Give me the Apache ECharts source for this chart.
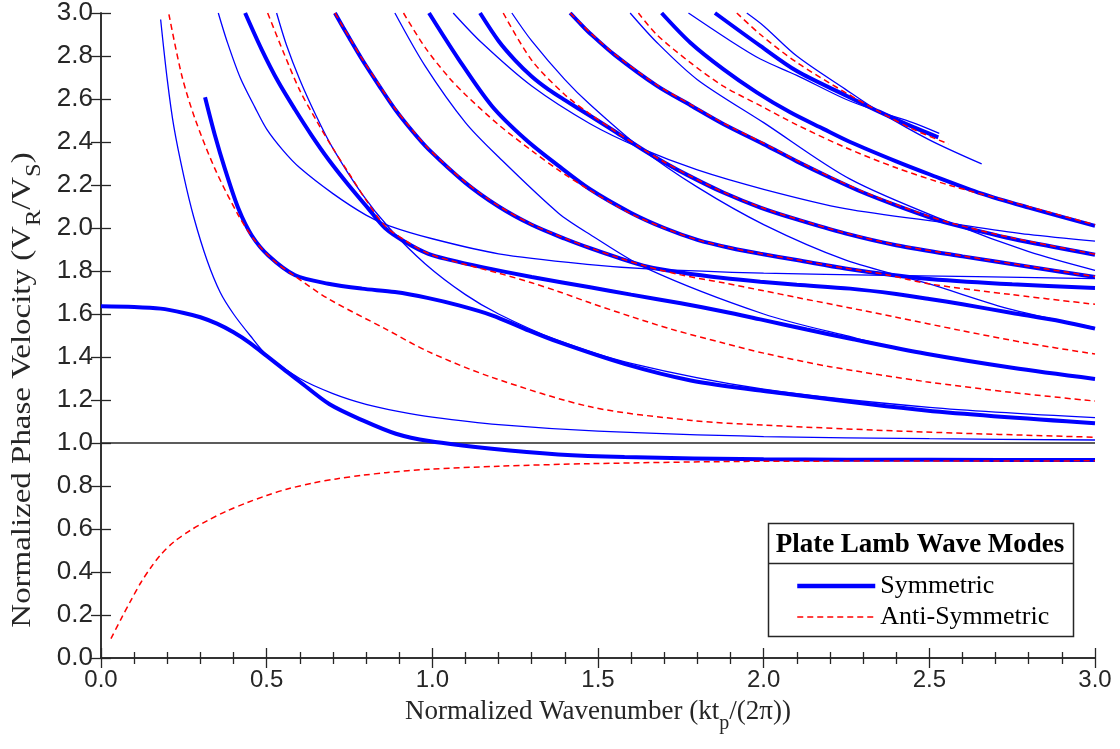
<!DOCTYPE html>
<html>
<head>
<meta charset="utf-8">
<script src="https://cdn.jsdelivr.net/npm/echarts@6/dist/echarts.min.js"></script>
<style>
  html, body { margin: 0; padding: 0; background: #fff; }
  #chart { width: 1120px; height: 749px; }
</style>
</head>
<body>
<div id="chart"></div>
<script>
// ---- Symmetric Lamb modes (thick blue) ----
const symS0 = [[0,1.636],[0.1,1.633],[0.18,1.625],[0.25,1.605],[0.30,1.585],[0.35,1.555],[0.40,1.515],[0.45,1.465],[0.50,1.405],[0.55,1.345],[0.60,1.285],[0.69,1.18],[0.79,1.105],[0.89,1.043],[0.99,1.009],[1.18,0.973],[1.38,0.947],[1.58,0.935],[2.0,0.924],[2.5,0.922],[3.0,0.921]];
const symS1 = [[0.314,2.608],[0.344,2.43],[0.374,2.275],[0.415,2.089],[0.455,1.965],[0.505,1.872],[0.586,1.78],[0.686,1.741],[0.787,1.718],[0.887,1.702],[0.985,1.675],[1.08,1.64],[1.18,1.594],[1.28,1.53],[1.38,1.47],[1.58,1.368],[1.78,1.291],[2.0,1.242],[2.49,1.151],[3.0,1.092]];
const symS2 = [[0.435,3.0],[0.485,2.83],[0.535,2.68],[0.586,2.55],[0.636,2.43],[0.686,2.32],[0.747,2.20],[0.807,2.09],[0.857,2.0],[0.918,1.935],[0.988,1.88],[1.05,1.853],[1.15,1.818],[1.3,1.772],[1.476,1.724],[1.6,1.69],[1.75,1.65],[1.878,1.612],[1.99,1.575],[2.13,1.528],[2.27,1.482],[2.49,1.415],[2.75,1.35],[3.0,1.298]];
const symS3 = [[0.706,3.0],[0.75,2.882],[0.787,2.786],[0.84,2.66],[0.887,2.553],[0.94,2.45],[0.988,2.367],[1.1,2.21],[1.2,2.10],[1.3,2.015],[1.4,1.95],[1.476,1.906],[1.56,1.862],[1.65,1.82],[1.75,1.793],[1.878,1.767],[1.99,1.75],[2.1,1.736],[2.261,1.718],[2.4,1.693],[2.5,1.67],[2.6,1.645],[2.75,1.605],[2.9,1.565],[3.0,1.532]];
const symS4 = [[0.99,3.0],[1.079,2.786],[1.179,2.569],[1.28,2.414],[1.38,2.29],[1.476,2.18],[1.6,2.07],[1.7,2.0],[1.8,1.945],[1.9,1.907],[1.99,1.88],[2.1,1.851],[2.246,1.812],[2.37,1.785],[2.5,1.763],[2.75,1.738],[3.0,1.721]];
const symS5 = [[1.144,3.0],[1.2,2.87],[1.25,2.78],[1.3,2.705],[1.35,2.645],[1.4,2.595],[1.476,2.522],[1.55,2.45],[1.63,2.37],[1.7,2.305],[1.778,2.24],[1.878,2.165],[1.99,2.095],[2.1,2.04],[2.246,1.975],[2.4,1.92],[2.6,1.868],[2.8,1.82],[3.0,1.772]];
const symS6 = [[1.416,3.0],[1.45,2.945],[1.476,2.905],[1.55,2.805],[1.677,2.662],[1.78,2.57],[1.878,2.484],[2.0,2.39],[2.1,2.31],[2.2,2.235],[2.3,2.165],[2.4,2.105],[2.5,2.05],[2.57,2.017],[2.75,1.95],[3.0,1.876]];
const symS7 = [[1.692,3.0],[1.778,2.863],[1.878,2.739],[1.979,2.631],[2.08,2.538],[2.18,2.461],[2.261,2.40],[2.4,2.31],[2.5,2.25],[2.658,2.16],[2.8,2.095],[3.0,2.01]];
const symS8 = [[1.853,3.0],[1.99,2.847],[2.1,2.73],[2.246,2.618],[2.35,2.54],[2.45,2.47],[2.527,2.422]];

// ---- Anti-symmetric Lamb modes (red dashed) ----
const antiA0 = [[0.03,0.09],[0.06,0.18],[0.09,0.267],[0.12,0.35],[0.15,0.42],[0.18,0.48],[0.22,0.54],[0.27,0.594],[0.32,0.638],[0.38,0.684],[0.44,0.722],[0.5,0.756],[0.56,0.785],[0.64,0.814],[0.71,0.833],[0.79,0.85],[0.86,0.862],[0.99,0.878],[1.2,0.892],[1.48,0.904],[2.0,0.915],[2.5,0.916],[3.0,0.917]];
const antiA1 = [[0.205,2.994],[0.244,2.708],[0.284,2.507],[0.344,2.275],[0.415,2.058],[0.465,1.94],[0.52,1.85],[0.586,1.775],[0.686,1.671],[0.857,1.532],[0.988,1.425],[1.179,1.306],[1.481,1.167],[1.783,1.105],[2.0,1.083],[2.49,1.051],[3.0,1.027]];
const antiA2 = [[0.503,3.0],[0.55,2.82],[0.6,2.64],[0.65,2.50],[0.7,2.37],[0.75,2.25],[0.8,2.13],[0.857,2.01],[0.92,1.94],[0.99,1.88],[1.1,1.83],[1.2,1.79],[1.3,1.745],[1.38,1.705],[1.476,1.652],[1.6,1.588],[1.72,1.53],[1.878,1.465],[2.0,1.418],[2.2,1.355],[2.49,1.285],[2.75,1.235],[3.0,1.195]];
const antiA3 = [[0.706,3.0],[0.75,2.885],[0.787,2.79],[0.84,2.665],[0.887,2.557],[0.94,2.455],[0.988,2.37],[1.1,2.213],[1.2,2.103],[1.3,2.017],[1.4,1.952],[1.476,1.908],[1.56,1.863],[1.65,1.82],[1.75,1.782],[1.878,1.745],[2.0,1.708],[2.1,1.677],[2.261,1.628],[2.4,1.585],[2.59,1.525],[2.8,1.463],[3.0,1.414]];
const antiA4 = [[0.913,3.0],[0.978,2.84],[1.05,2.70],[1.1,2.62],[1.2,2.48],[1.3,2.36],[1.38,2.27],[1.476,2.175],[1.6,2.066],[1.7,2.0],[1.8,1.945],[1.9,1.908],[1.99,1.881],[2.1,1.852],[2.246,1.813],[2.37,1.783],[2.5,1.74],[2.75,1.69],[3.0,1.645]];
const antiA5 = [[1.214,3.0],[1.3,2.78],[1.4,2.62],[1.476,2.53],[1.55,2.452],[1.63,2.372],[1.7,2.307],[1.778,2.242],[1.878,2.167],[1.99,2.097],[2.1,2.042],[2.246,1.977],[2.4,1.922],[2.6,1.87],[2.8,1.822],[3.0,1.774]];
const antiA6 = [[1.416,3.0],[1.45,2.949],[1.476,2.909],[1.55,2.809],[1.677,2.666],[1.78,2.574],[1.878,2.488],[2.0,2.394],[2.1,2.314],[2.2,2.239],[2.3,2.169],[2.4,2.109],[2.5,2.054],[2.57,2.021],[2.75,1.954],[3.0,1.878]];
const antiA7 = [[1.622,3.0],[1.677,2.90],[1.778,2.77],[1.878,2.66],[1.99,2.569],[2.1,2.48],[2.246,2.375],[2.4,2.28],[2.558,2.2],[2.75,2.12],[3.0,2.015]];
const antiA8 = [[1.919,3.0],[1.99,2.90],[2.1,2.77],[2.246,2.631],[2.35,2.54],[2.45,2.46],[2.558,2.391]];

// ---- Bulk shear / longitudinal thickness-resonance lines (thin blue) ----
const lineSH1 = [[0.18,2.97],[0.2,2.69],[0.22,2.47],[0.25,2.24],[0.28,2.05],[0.32,1.85],[0.36,1.70],[0.4,1.60],[0.45,1.50],[0.5,1.41],[0.6,1.30],[0.7,1.23],[0.8,1.18],[0.9,1.146],[1.0,1.12],[1.2,1.085],[1.5,1.055],[2.0,1.03],[2.5,1.02],[3.0,1.014]];
const lineSH3 = [[0.53,3.0],[0.56,2.85],[0.6,2.69],[0.65,2.52],[0.7,2.37],[0.787,2.16],[0.87,2.0],[0.978,1.834],[1.1,1.69],[1.2,1.60],[1.37,1.483],[1.6,1.37],[2.0,1.25],[2.5,1.166],[3.0,1.118]];
const lineSH5 = [[0.887,3.0],[0.978,2.754],[1.1,2.49],[1.2,2.33],[1.38,2.07],[1.476,1.97],[1.65,1.81],[2.0,1.60],[2.246,1.50],[2.5,1.41],[3.0,1.30]];
const lineSH7 = [[1.24,3.0],[1.3,2.87],[1.4,2.69],[1.476,2.574],[1.63,2.37],[1.8,2.19],[2.0,2.016],[2.246,1.852],[2.5,1.74],[2.75,1.62],[3.0,1.536]];
const lineSH9 = [[1.597,3.0],[1.677,2.864],[1.8,2.69],[2.0,2.49],[2.261,2.227],[2.57,2.02],[2.8,1.89],[3.0,1.803]];
const lineSH11 = [[1.949,3.0],[2.0,2.94],[2.1,2.80],[2.246,2.646],[2.35,2.54],[2.5,2.41],[2.658,2.298]];
const lineP1 = [[0.354,3.0],[0.38,2.87],[0.42,2.70],[0.465,2.56],[0.5,2.46],[0.55,2.36],[0.6,2.28],[0.7,2.16],[0.8,2.06],[0.87,2.01],[1.0,1.95],[1.2,1.88],[1.476,1.83],[1.65,1.81],[2.0,1.79],[2.37,1.78],[3.0,1.765]];
const lineP3 = [[1.063,3.0],[1.15,2.86],[1.3,2.66],[1.476,2.485],[1.63,2.37],[1.8,2.27],[2.0,2.18],[2.246,2.09],[2.57,2.02],[2.8,1.97],[3.0,1.939]];
const lineP5 = [[1.773,3.0],[1.9,2.87],[1.99,2.786],[2.1,2.71],[2.246,2.6],[2.35,2.54],[2.45,2.49],[2.53,2.44]];

const refLine = [[0, 1], [3, 1]];

const symModes = [symS0, symS1, symS2, symS3, symS4, symS5, symS6, symS7, symS8];
const antiModes = [antiA0, antiA1, antiA2, antiA3, antiA4, antiA5, antiA6, antiA7, antiA8];
const thinLines = [lineSH1, lineSH3, lineSH5, lineSH7, lineSH9, lineSH11, lineP1, lineP3, lineP5];

const BLUE = '#0000ff', RED = '#ff0000', AX = '#262626';
const serif = 'Liberation Serif';

function curve(name, data, color, lineStyle, z) {
  return { name, type: 'line', data, smooth: 0.3, symbol: 'none', showSymbol: false,
           clip: true, silent: true, itemStyle: { color }, lineStyle: Object.assign({ color }, lineStyle), z,
           emphasis: { disabled: true } };
}

const series = [];
thinLines.forEach(d => series.push(curve('Bulk resonance', d, BLUE, { width: 1.3 }, 2)));
symModes.forEach(d => series.push(curve('Symmetric', d, BLUE, { width: 4 }, 3)));
antiModes.forEach(d => series.push(curve('Anti-Symmetric', d, RED, { width: 1.5, type: [6, 4] }, 4)));
series.push({ type: 'line', data: refLine, symbol: 'none', silent: true, z: 1,
              lineStyle: { color: AX, width: 1.5 } });

const tickFmt = v => v.toFixed(1);
const tickStyle = { color: AX, width: 1.3 };

function xAx(pos, labels) {
  return { type: 'value', min: 0, max: 3, interval: 0.5, position: pos,
    axisLine: { lineStyle: { color: AX, width: 1.5 } },
    axisTick: { inside: true, length: 10, lineStyle: tickStyle },
    minorTick: { show: true, splitNumber: 5, length: 6, lineStyle: tickStyle },
    axisLabel: labels ? { formatter: tickFmt, fontFamily: 'Liberation Sans', fontSize: 24, color: AX, margin: 10 } : { show: false },
    splitLine: { show: false } };
}
function yAx(pos, labels) {
  return { type: 'value', min: 0, max: 3, interval: 0.2, position: pos,
    axisLine: { show: true, lineStyle: { color: AX, width: 1.5 } },
    axisTick: { show: true, inside: true, length: 10, lineStyle: tickStyle },
    axisLabel: labels ? { formatter: tickFmt, fontFamily: 'Liberation Sans', fontSize: 26, color: AX, margin: 8 } : { show: false },
    splitLine: { show: false } };
}

const chart = echarts.init(document.getElementById('chart'), null, { renderer: 'canvas' });
chart.setOption({
  animation: false,
  backgroundColor: '#fff',
  grid: { left: 101, right: 25, top: 12, bottom: 91, containLabel: false },
  xAxis: [xAx('bottom', true), xAx('top', false)],
  yAxis: [yAx('left', true), yAx('right', false)],
  legend: {
    data: [
      { name: 'Symmetric', itemStyle: { opacity: 0 }, lineStyle: { color: BLUE, width: 4.5 } },
      { name: 'Anti-Symmetric', itemStyle: { opacity: 0 }, lineStyle: { color: RED, width: 1.5, type: [6, 4] } }
    ],
    orient: 'vertical', left: 790, top: 568, z: 20,
    itemWidth: 78, itemHeight: 14, itemGap: 5, selectedMode: false,
    textStyle: { fontFamily: serif, fontSize: 26, color: '#000' }
  },
  graphic: [
    { type: 'rect', z: 10, shape: { x: 768.5, y: 523.5, width: 305, height: 113 },
      style: { fill: '#fff', stroke: AX, lineWidth: 1.5 } },
    { type: 'line', z: 11, shape: { x1: 768.5, y1: 563.5, x2: 1073.5, y2: 563.5 },
      style: { stroke: AX, lineWidth: 1.3 } },
    { type: 'text', z: 11, x: 920, y: 545,
      style: { text: 'Plate Lamb Wave Modes', font: 'bold 27px "Liberation Serif"', fill: '#000',
               align: 'center', verticalAlign: 'middle' } },
    { type: 'text', z: 11, x: 598, y: 716,
      style: { text: '{a|Normalized Wavenumber (kt}{s|p}{a|/(2π))}', align: 'center', verticalAlign: 'middle',
               rich: { a: { fontFamily: serif, fontSize: 27, fill: AX, lineHeight: 36, verticalAlign: 'top' },
                       s: { fontFamily: serif, fontSize: 20, fill: AX, lineHeight: 36, verticalAlign: 'bottom' } } } },
    { type: 'text', z: 11, x: 27, y: 390, rotation: Math.PI / 2, scaleX: 1.22,
      style: { text: '{a|Normalized Phase Velocity (V}{s|R}{a|/V}{s|S}{a|)}', align: 'center', verticalAlign: 'middle',
               rich: { a: { fontFamily: serif, fontSize: 27, fill: AX, lineHeight: 36, verticalAlign: 'top' },
                       s: { fontFamily: serif, fontSize: 20, fill: AX, lineHeight: 36, verticalAlign: 'bottom' } } } }
  ],
  series
});
</script>
</body>
</html>
